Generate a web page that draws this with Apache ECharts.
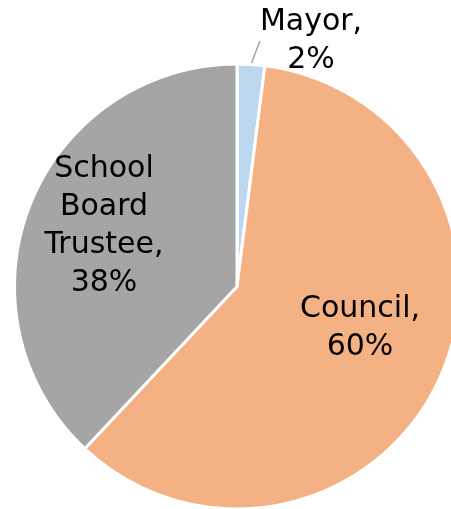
<!DOCTYPE html>
<html>
<head>
<meta charset="utf-8">
<script src="https://cdn.jsdelivr.net/npm/echarts@6/dist/echarts.min.js"></script>
<style>
  html, body { margin: 0; padding: 0; background: #fff; }
  #chart { width: 451px; height: 509px; }
</style>
</head>
<body>
<div id="chart"></div>
<script>
// Share of elected offices
const categories = ['Mayor', 'Council', 'School\nBoard\nTrustee'];
const shares = [2, 60, 38];
const sliceColors = ['#bdd7ee', '#f4b183', '#a5a5a5'];

// Label centre points for each slice
const labelSpots = [[311, 41], [360, 328], [104, 226]];

const chart = echarts.init(document.getElementById('chart'), null, { renderer: 'canvas' });

chart.setOption({
  animation: false,
  backgroundColor: '#ffffff',
  series: [{
    type: 'pie',
    center: [237, 286.5],
    radius: 222.5,
    startAngle: 90,
    clockwise: true,
    avoidLabelOverlap: false,
    data: categories.map((name, i) => ({
      name: name,
      value: shares[i],
      itemStyle: { color: sliceColors[i] },
      label: { position: i === 0 ? 'outside' : 'inside' },
      labelLine: { show: i === 0 }
    })),
    itemStyle: { borderColor: '#ffffff', borderWidth: 3 },
    label: {
      show: true,
      formatter: p => p.name + ',\n' + p.value + '%',
      fontFamily: 'DejaVu Sans',
      fontSize: 30,
      lineHeight: 38,
      color: '#000000',
      align: 'center',
      verticalAlign: 'middle'
    },
    labelLine: {
      show: true,
      length: 12,
      length2: 0,
      lineStyle: { color: '#a6a6a6', width: 1.5 }
    },
    labelLayout: function (params) {
      const s = labelSpots[params.dataIndex];
      return { x: s[0], y: s[1], align: 'center', verticalAlign: 'middle' };
    }
  }]
});
</script>
</body>
</html>
